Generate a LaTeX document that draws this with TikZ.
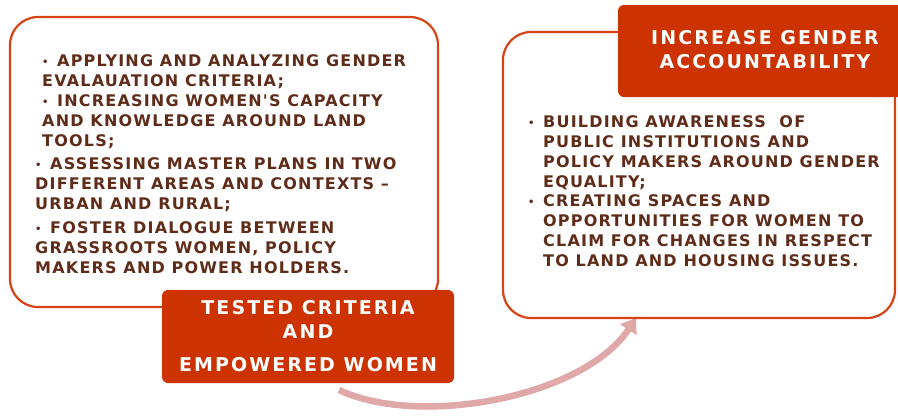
\documentclass[tikz,border=0pt]{standalone}
\usepackage{fontspec}
\usetikzlibrary{arrows.meta}
\newfontfamily\bodyfont{DejaVu Sans Bold}[LetterSpace=7.5]
\newfontfamily\headfont{DejaVu Sans Bold}[LetterSpace=11]
\definecolor{bordercol}{RGB}{216,67,21}
\definecolor{headfill}{RGB}{204,51,0}
\definecolor{bodytext}{RGB}{96,44,26}
\definecolor{arrowcol}{RGB}{224,168,168}
\newcommand{\bul}{\makebox[15pt][l]{\raisebox{0.5pt}{\fontsize{10}{10}\selectfont•}}}
\newcommand{\hang}{\hspace*{15pt}}
\tikzset{
  bigbox/.style={draw=bordercol, line width=2.2pt, fill=white, rounded corners=28pt, inner sep=0pt},
  headbox/.style={fill=headfill, rounded corners=6pt, inner sep=0pt},
  bodypar/.style={anchor=north west, inner sep=0pt, align=left, text=bodytext,
    font={\fontsize{16}{20.2}\bodyfont}},
  headtext/.style={inner sep=0pt, align=center, text=white,
    font={\fontsize{19}{24}\headfont}},
  flowarrow/.style={draw=arrowcol, line width=6.5pt, -{Triangle[length=14pt,width=19pt]}}
}
\begin{document}
\begin{tikzpicture}[x=1pt,y=-1pt]
\useasboundingbox (0,0) rectangle (898,416);
% arrow (behind the boxes)
\coordinate (arrstart) at (339,390);
\coordinate (arrend) at (636,318);
\draw[flowarrow] (arrstart) .. controls (420,428) and (584,397) .. (arrend);
% left box
\node[bigbox, minimum width=428pt, minimum height=290pt] (leftbox) at (224,162) {};
\node[bodypar] (lp1) at (42,54) {\bul APPLYING AND ANALYZING GENDER\\EVALAUATION CRITERIA;};
\node[bodypar] (lp2) at (42,94) {\bul INCREASING WOMEN'S CAPACITY\\AND KNOWLEDGE AROUND LAND\\TOOLS;};
\node[bodypar] (lp3) at (35,157) {\bul ASSESSING MASTER PLANS IN TWO\\DIFFERENT AREAS AND CONTEXTS –\\URBAN AND RURAL;};
\node[bodypar] (lp4) at (35,221) {\bul FOSTER DIALOGUE BETWEEN\\GRASSROOTS WOMEN, POLICY\\MAKERS AND POWER HOLDERS.};
% right box
\node[bigbox, minimum width=392pt, minimum height=286pt] (rightbox) at (699,175) {};
\node[bodypar] (rp1) at (528,115) {\bul BUILDING AWARENESS \ OF\\\hang PUBLIC INSTITUTIONS AND\\\hang POLICY MAKERS AROUND GENDER\\\hang EQUALITY;};
\node[bodypar] (rp2) at (528,194) {\bul CREATING SPACES AND\\\hang OPPORTUNITIES FOR WOMEN TO\\\hang CLAIM FOR CHANGES IN RESPECT\\\hang TO LAND AND HOUSING ISSUES.};
% header boxes
\node[headbox, minimum width=292pt, minimum height=93pt] (tested) at (308,336.5) {};
\node[headtext] (testedtxt) at (308,336.5) {TESTED CRITERIA\\AND\\[9pt]EMPOWERED WOMEN};
\node[headbox, minimum width=290pt, minimum height=92pt] (increase) at (763,51) {};
\node[headtext] (increasetxt) at (765,50) {INCREASE GENDER\\ACCOUNTABILITY};
\end{tikzpicture}
\end{document}
